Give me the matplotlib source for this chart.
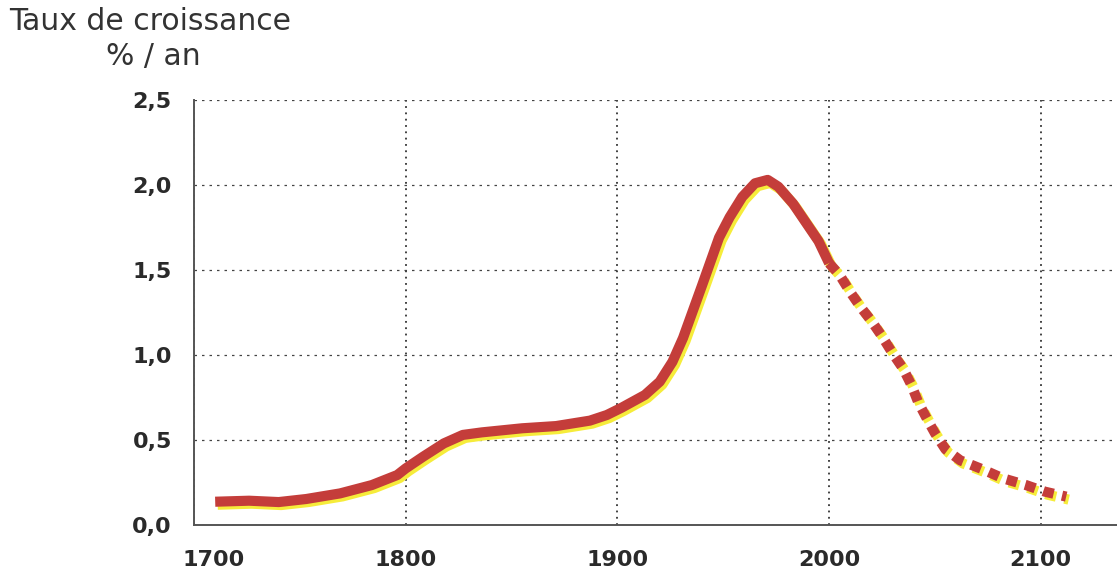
import matplotlib
matplotlib.use("Agg")
import matplotlib.pyplot as plt
import matplotlib.transforms as mtransforms

# observed / estimated growth rate (solid part)
years_hist = [1710, 1726, 1740, 1753, 1769, 1784, 1796, 1800, 1808, 1818, 1827,
              1836, 1855, 1871, 1887, 1895, 1902, 1913, 1920, 1926, 1931, 1935.5,
              1940, 1944, 1948, 1953, 1959, 1965, 1971, 1976, 1983, 1989, 1995, 2000]
rate_hist = [0.137, 0.143, 0.135, 0.153, 0.186, 0.235, 0.294, 0.333, 0.40, 0.48, 0.53,
             0.545, 0.569, 0.582, 0.614, 0.647, 0.69, 0.765, 0.843, 0.96, 1.10, 1.255,
             1.41, 1.55, 1.69, 1.81, 1.93, 2.01, 2.03, 1.99, 1.89, 1.78, 1.67, 1.54]

# projection (dotted part)
years_proj = [2000, 2005, 2010, 2015, 2020, 2025, 2030, 2035, 2039, 2042, 2046,
              2050, 2055, 2062, 2072, 2082, 2093, 2102, 2112]
rate_proj = [1.54, 1.47, 1.37, 1.28, 1.20, 1.11, 1.01, 0.92, 0.82, 0.725, 0.63,
             0.54, 0.445, 0.38, 0.33, 0.275, 0.235, 0.196, 0.167]

xticks = [1700, 1800, 1900, 2000, 2100]
yticks = [0.0, 0.5, 1.0, 1.5, 2.0, 2.5]
ytick_labels = ["0,0", "0,5", "1,0", "1,5", "2,0", "2,5"]

plt.rcParams["font.family"] = ["DejaVu Sans"]

fig = plt.figure(figsize=(11.17, 5.69), dpi=100)
ax = fig.add_axes([0.1737, 0.0773, 0.8263, 0.747])

red = "#c43d3a"
yellow = "#f6ec3a"
lw = 7.3
shadow = mtransforms.offset_copy(ax.transData, fig=fig, x=2.5, y=-3, units="dots")

ax.plot(years_hist, rate_hist, color=yellow, lw=lw, solid_capstyle="butt",
        solid_joinstyle="round", transform=shadow, zorder=3)
ax.plot(years_proj, rate_proj, color=yellow, lw=lw, dashes=[1.05, 0.85],
        dash_capstyle="butt", transform=shadow, zorder=3)
ax.plot(years_hist, rate_hist, color=red, lw=lw, solid_capstyle="butt",
        solid_joinstyle="round", zorder=4)
ax.plot(years_proj, rate_proj, color=red, lw=lw, dashes=[1.05, 0.85],
        dash_capstyle="butt", zorder=4)

ax.set_xlim(1700, 2136)
ax.set_ylim(0, 2.5)
ax.set_xticks(xticks)
ax.set_xticklabels([str(x) for x in xticks])
ax.set_yticks(yticks)
ax.set_yticklabels(ytick_labels)
ax.tick_params(length=0, labelsize=16, colors="#2a2a2a")
ax.tick_params(axis="y", pad=16)
ax.tick_params(axis="x", pad=18)
for lab in ax.get_xticklabels() + ax.get_yticklabels():
    lab.set_fontweight("bold")
# the first year label sits a bit to the right of the axis
first = ax.get_xticklabels()[0]
first.set_transform(first.get_transform()
                    + mtransforms.ScaledTranslation(20 / 100, 0, fig.dpi_scale_trans))

ax.grid(axis="x", linestyle=(0, (1, 2.5)), color="#333333", lw=1.3)
ax.grid(axis="y", linestyle=(0, (2, 4)), color="#444444", lw=0.9)
ax.set_axisbelow(True)

for side in ["top", "right"]:
    ax.spines[side].set_visible(False)
for side in ["left", "bottom"]:
    ax.spines[side].set_color("#555555")
    ax.spines[side].set_linewidth(1.4)

fig.text(0.008, 0.962, "Taux de croissance", fontsize=21.5, color="#333333",
         ha="left", va="center")
fig.text(0.137, 0.9, "% / an", fontsize=21.5, color="#333333", ha="center", va="center")

fig.savefig("out.png", dpi=100)
